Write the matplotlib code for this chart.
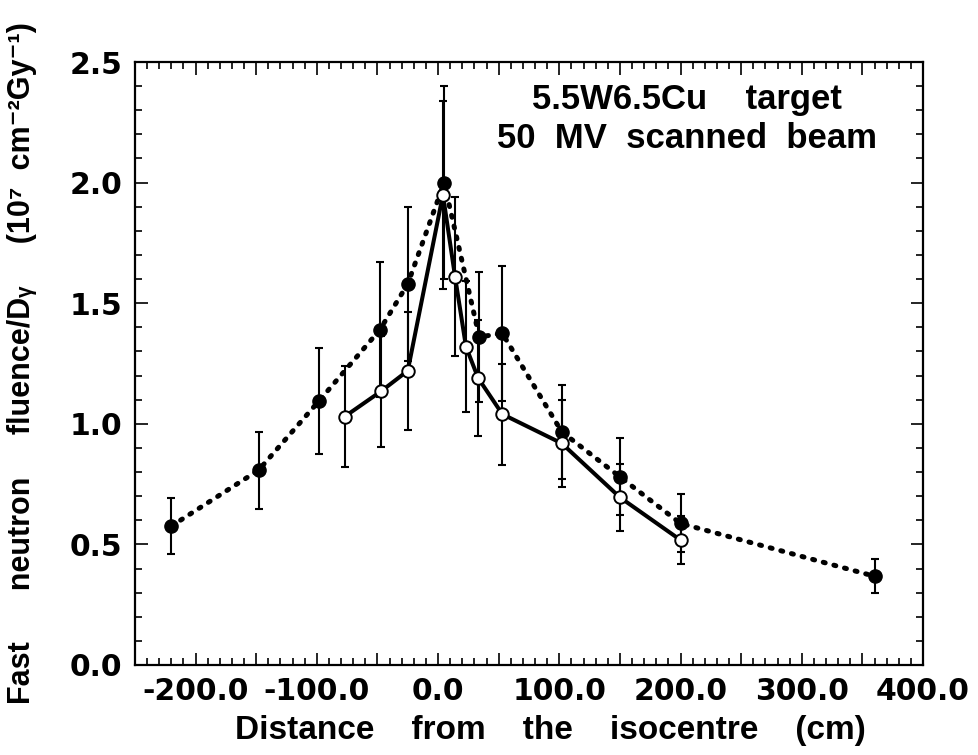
import numpy as np
import matplotlib.pyplot as plt
from matplotlib.ticker import MultipleLocator, FuncFormatter

# filled circles, dotted line
x_fill = [-220, -148, -98, -48, -25, 5, 34, 53, 102, 150, 200, 360]
y_fill = [0.576, 0.808, 1.096, 1.39, 1.58, 2.0, 1.36, 1.375, 0.967, 0.78, 0.587, 0.368]
e_fill = [0.115, 0.16, 0.22, 0.28, 0.32, 0.40, 0.27, 0.28, 0.195, 0.16, 0.12, 0.07]

# open circles, solid line
x_open = [-77, -47, -25, 4, 14, 23, 33, 53, 102, 150, 200]
y_open = [1.03, 1.135, 1.22, 1.95, 1.61, 1.32, 1.19, 1.04, 0.919, 0.695, 0.518]
e_open = [0.21, 0.23, 0.245, 0.39, 0.33, 0.27, 0.24, 0.21, 0.18, 0.14, 0.10]

fig = plt.figure(figsize=(9.79, 7.55), dpi=100)
ax = fig.add_axes([135 / 979, 1 - 665 / 755, 788 / 979, 603 / 755])

# error bars
ax.errorbar(x_fill, y_fill, yerr=e_fill, fmt='none', ecolor='black',
            elinewidth=1.5, capsize=3, capthick=1.5, zorder=2)
ax.errorbar(x_open, y_open, yerr=e_open, fmt='none', ecolor='black',
            elinewidth=1.5, capsize=3, capthick=1.5, zorder=2)

# lines
ax.plot(x_fill, y_fill, color='black', lw=3.6, linestyle=(0, (0.4, 1.8)),
        dash_capstyle='round', zorder=3)
ax.plot(x_open, y_open, color='black', lw=2.9, linestyle='-', zorder=3)

# markers
ax.plot(x_fill, y_fill, 'o', color='black', ms=9.5, zorder=4)
ax.plot(x_open, y_open, 'o', mfc='white', mec='black', mew=1.4, ms=9, zorder=5)

ax.set_xlim(-250, 400)
ax.set_ylim(0, 2.5)

ax.xaxis.set_major_locator(MultipleLocator(50))
ax.xaxis.set_minor_locator(MultipleLocator(10))
ax.yaxis.set_major_locator(MultipleLocator(0.5))
ax.yaxis.set_minor_locator(MultipleLocator(0.1))

def xfmt(v, pos):
    if abs(v) < 1e-6 or (round(v) % 100 == 0 and v > -250):
        return '%.1f' % v
    return ''

ax.xaxis.set_major_formatter(FuncFormatter(xfmt))
ax.yaxis.set_major_formatter(FuncFormatter(lambda v, p: '%.1f' % v))

ax.tick_params(which='both', direction='in', top=True, right=True, width=1.2)
ax.tick_params(which='major', length=9)
ax.tick_params(which='minor', length=5)
ax.tick_params(axis='x', which='major', pad=9)
ax.tick_params(axis='y', which='major', pad=9)

for lab in ax.get_xticklabels() + ax.get_yticklabels():
    lab.set_fontfamily('DejaVu Sans')
    lab.set_fontweight('bold')
    lab.set_fontsize(21.5)

for s in ax.spines.values():
    s.set_linewidth(1.6)

fams = ['Liberation Sans', 'DejaVu Sans']

ax.set_xlabel('Distance    from    the    isocentre    (cm)', family=fams,
              fontweight='bold', fontsize=24)
ax.xaxis.set_label_coords(0.527, -0.108)
ax.xaxis.label.set_va('center')

ax.set_ylabel('Fast      neutron     fluence/D\u1d67     (10\u2077  cm\u207b\u00b2Gy\u207b\u00b9)',
              family=fams, fontweight='bold', fontsize=22)
ax.yaxis.set_label_coords(-0.143, 0.50)
ax.yaxis.label.set_va('center')

ax.text(0.70, 0.937, '5.5W6.5Cu    target', transform=ax.transAxes, ha='center',
        va='center', family=fams, fontweight='bold', fontsize=25)
ax.text(0.70, 0.873, '50  MV  scanned  beam', transform=ax.transAxes, ha='center',
        va='center', family=fams, fontweight='bold', fontsize=25)

fig.savefig('out.png', dpi=100)
